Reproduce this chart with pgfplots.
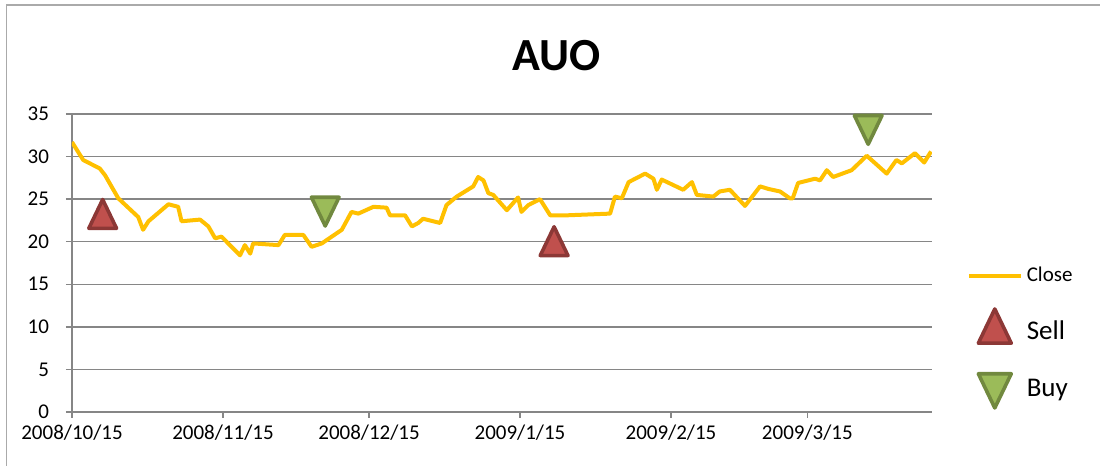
\documentclass[border=0pt]{standalone}
\usepackage{fontspec}
\setmainfont{Carlito}
\usepackage{pgfplots}
\pgfplotsset{compat=1.18}
\definecolor{closeC}{RGB}{255,192,0}
\definecolor{sellF}{RGB}{192,80,77}
\definecolor{sellD}{RGB}{140,56,54}
\definecolor{buyF}{RGB}{155,187,89}
\definecolor{buyD}{RGB}{113,137,63}
\definecolor{gridC}{RGB}{134,134,134}
\definecolor{frameC}{RGB}{170,170,170}
\pgfplotsset{
  linelegend/.style={legend image code/.code={\draw[##1] (0pt,0pt) -- (26pt,0pt);}},
  marklegend/.style={legend image code/.code={\draw[mark repeat=2,mark phase=2,##1,mark size=9.5pt]
     plot coordinates {(0pt,0pt)(13pt,0pt)(26pt,0pt)};}},
}
\begin{document}
\begin{tikzpicture}
\useasboundingbox (0,0) rectangle (550pt,233pt);
\draw[frameC, line width=0.75pt] (3.2pt,-10pt) rectangle (560pt,230.5pt);
\begin{axis}[
  at={(36pt,27pt)}, anchor=south west, scale only axis,
  width=430pt, height=149pt,
  xmin=0, xmax=176.6, ymin=0, ymax=35,
  axis x line*=bottom, axis y line*=left,
  axis line style={gridC, line width=0.75pt, -},
  ytick={0,5,...,35}, xtick={0,31,61,92,123,151},
  xticklabels={2008/10/15,2008/11/15,2008/12/15,2009/1/15,2009/2/15,2009/3/15},
  ymajorgrids, major grid style={gridC, line width=0.75pt},
  tick align=outside, major tick length=3pt,
  tick style={gridC, line width=0.75pt},
  /pgf/number format/assume math mode=true,
  tick label style={font=\fontsize{10.5}{12}\selectfont, text=black},
  yticklabel style={xshift=-5pt},
  title={AUO},
  title style={at={(0.563,1)}, anchor=center, yshift=23pt,
    font=\fontsize{23}{27}\selectfont\bfseries},
  legend style={at={(1.040,0.50)}, anchor=north west, draw=none, fill=none,
    row sep=10pt, inner sep=0pt, font=\fontsize{10.5}{12}\selectfont},
  legend cell align=left,
]
\addplot[closeC, line width=2pt, line join=round, linelegend]
coordinates {
(0,31.7)(2.3,29.6)(5.7,28.6)(6.8,27.8)(9.5,25.1)(13.6,22.9)(14.6,21.4)
(15.7,22.4)(19.8,24.4)(21.8,24.1)(22.5,22.4)(26.3,22.6)(28,21.8)(29.4,20.4)
(30.7,20.6)(34.5,18.4)(35.5,19.6)(36.6,18.6)(37.2,19.8)(42.4,19.6)(43.7,20.8)
(47.5,20.8)(49.2,19.4)(51.3,19.8)(55.4,21.4)(57.4,23.5)(58.8,23.3)(61.9,24.1)
(64.6,24.0)(65.3,23.1)(68.4,23.1)(69.8,21.8)(71.1,22.2)(72.1,22.7)(75.6,22.2)
(76.9,24.3)(79,25.3)(82.4,26.5)(83.4,27.6)(84.5,27.2)(85.5,25.7)(86.5,25.5)
(89.3,23.7)(91.6,25.2)(92.3,23.5)(93.7,24.3)(96.1,25.0)(98.2,23.1)(101.6,23.1)
(110.5,23.3)(111.5,25.3)(112.9,25.1)(114.3,27.0)(117.7,28.0)(119.4,27.4)
(120.1,26.1)(121.1,27.3)(125.5,26.1)(127.3,27.0)(128.3,25.5)(131.7,25.3)
(133,25.9)(135.1,26.1)(138.2,24.2)(141.3,26.5)(143,26.2)(145.4,25.9)
(147.4,25.1)(148,25.1)(149.1,26.9)(152.6,27.4)(153.6,27.2)(155,28.4)
(156.3,27.6)(160.1,28.4)(163.2,30.1)(167.3,28.0)(169.3,29.6)(170.4,29.2)
(173.1,30.4)(175,29.3)(176.4,30.6)
};
\addlegendentry{Close}
\addplot[only marks, mark=triangle*, mark size=8pt,
  mark options={yscale=1.2, fill=sellF, draw=sellD, line width=1.8pt, line join=round},
  marklegend]
coordinates {(6.3,22.7)(99,19.5)};
\addlegendentry{\fontsize{13.5}{15}\selectfont Sell}
\addplot[only marks, mark=triangle*, mark size=8pt,
  mark options={rotate=180, yscale=1.2, fill=buyF, draw=buyD, line width=1.8pt, line join=round},
  marklegend]
coordinates {(52,24.1)(163.5,33.7)};
\addlegendentry{\fontsize{13.5}{15}\selectfont\rule{0pt}{13pt}Buy}
\end{axis}
\end{tikzpicture}
\end{document}
